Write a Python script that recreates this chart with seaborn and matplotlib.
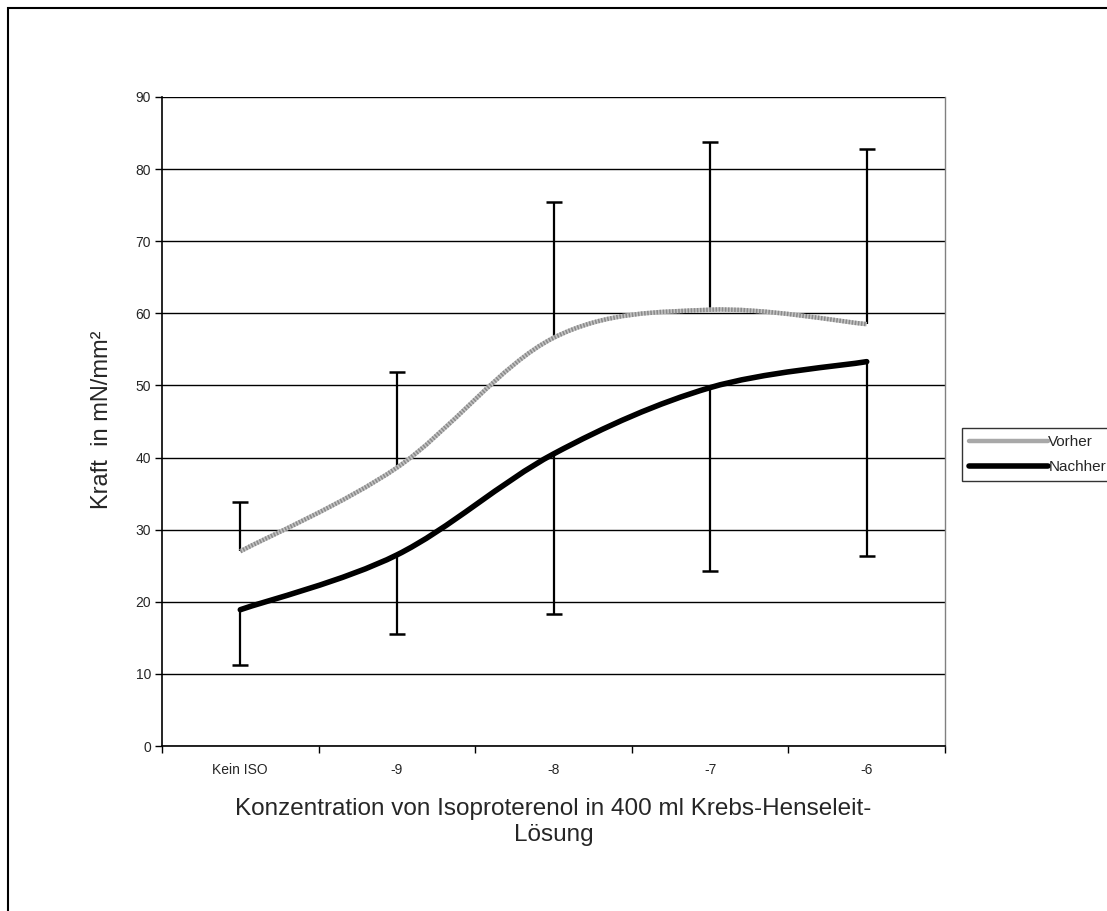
import numpy as np
import matplotlib
matplotlib.use("Agg")
import matplotlib.pyplot as plt
import seaborn as sns
from matplotlib.path import Path
from matplotlib.patches import PathPatch, Rectangle
from matplotlib.lines import Line2D

sns.set_style("white")
plt.rcParams['font.family'] = ['Liberation Sans', 'DejaVu Sans']

# values
categories = ["Kein ISO", "-9", "-8", "-7", "-6"]
vorher = [27.0, 38.6, 56.6, 60.5, 58.5]
vorher_upper = [33.8, 51.8, 75.5, 83.8, 82.8]
nachher = [18.9, 26.5, 40.5, 49.7, 53.3]
nachher_lower = [11.2, 15.6, 18.3, 24.2, 26.3]


def smooth_path(xs, ys):
    # Excel-like smoothed line: cubic bezier through the points (Catmull-Rom)
    pts = np.column_stack([xs, ys]).astype(float)
    ext = np.vstack([pts[0], pts, pts[-1]])
    verts = [pts[0]]
    codes = [Path.MOVETO]
    for i in range(1, len(ext) - 2):
        p0, p1, p2, p3 = ext[i - 1], ext[i], ext[i + 1], ext[i + 2]
        c1 = p1 + (p2 - p0) / 6.0
        c2 = p2 - (p3 - p1) / 6.0
        verts += [c1, c2, p2]
        codes += [Path.CURVE4] * 3
    return Path(verts, codes)


fig = plt.figure(figsize=(11.07, 9.11), dpi=100)
ax = fig.add_axes([162 / 1107, 1 - 746 / 911, 783 / 1107, 649 / 911])

x = np.arange(len(categories))

# gridlines
ax.set_ylim(0, 90)
ax.set_xlim(-0.5, len(categories) - 0.5)
ax.set_yticks(np.arange(0, 91, 10))
ax.yaxis.grid(True, color="black", linewidth=1.0)
ax.set_axisbelow(True)

# error bars (one-sided, cap only at the far end)
ax.vlines(x, vorher, vorher_upper, color="black", linewidth=1.6, zorder=3)
ax.plot(x, vorher_upper, linestyle="none", marker="_", markersize=12,
        markeredgewidth=1.8, color="black", zorder=3)
ax.vlines(x, nachher_lower, nachher, color="black", linewidth=1.6, zorder=3)
ax.plot(x, nachher_lower, linestyle="none", marker="_", markersize=12,
        markeredgewidth=1.8, color="black", zorder=3)

# smoothed series lines
ax.add_patch(PathPatch(smooth_path(x, vorher), facecolor="none", edgecolor="#c4c4c4",
                       linewidth=3.2, zorder=4, capstyle="butt"))
ax.add_patch(PathPatch(smooth_path(x, vorher), facecolor="none", edgecolor="#8a8a8a",
                       linewidth=3.2, linestyle=(0, (0.35, 0.35)), zorder=4, capstyle="butt"))
ax.add_patch(PathPatch(smooth_path(x, nachher), facecolor="none", edgecolor="black",
                       linewidth=4.0, zorder=5, capstyle="round"))

# axes styling
ax.spines["top"].set_visible(False)
ax.spines["right"].set_color("#808080")
ax.spines["right"].set_linewidth(1.0)
ax.spines["left"].set_color("black")
ax.spines["bottom"].set_color("black")
ax.spines["left"].set_linewidth(1.2)
ax.spines["bottom"].set_linewidth(1.2)

ax.set_xticks(np.arange(-0.5, len(categories), 1.0))
ax.set_xticklabels([])
ax.set_xticks(x, minor=True)
ax.set_xticklabels(categories, minor=True, fontsize=10)
ax.tick_params(axis="x", which="major", direction="out", length=5, width=1, color="black", bottom=True)
ax.tick_params(axis="x", which="minor", length=0, pad=12)
ax.tick_params(axis="y", direction="out", length=5, width=1, color="black", left=True,
               labelsize=10, pad=3)

ax.set_ylabel("Kraft  in mN/mm²", fontsize=17)
ax.yaxis.set_label_coords(-0.063, 0.502)
ax.set_xlabel("Konzentration von Isoproterenol in 400 ml Krebs-Henseleit-\nLösung",
              fontsize=17.5, linespacing=1.25)
ax.xaxis.set_label_coords(0.5, -0.08)
ax.xaxis.label.set_va("top")

# legend
handles = [Line2D([], [], color="#a8a8a8", linewidth=3.2),
           Line2D([], [], color="black", linewidth=4.0)]
leg = fig.legend(handles, ["Vorher", "Nachher"], loc="upper left",
                 bbox_to_anchor=(962 / 1107, 1 - 428 / 911), frameon=True,
                 fontsize=11, handlelength=5.2, handletextpad=0.0,
                 borderpad=0.45, labelspacing=0.75, fancybox=False, borderaxespad=0)
leg.get_frame().set_edgecolor("black")
leg.get_frame().set_linewidth(1.0)

# outer chart frame
fig.patches.append(Rectangle((8 / 1107, -0.1), 1.2, 1 - 8 / 911 + 0.1,
                             transform=fig.transFigure, fill=False,
                             edgecolor="black", linewidth=1.5))

fig.savefig("out.png", dpi=100)
